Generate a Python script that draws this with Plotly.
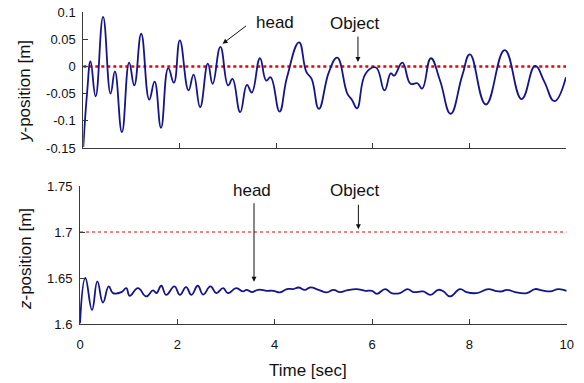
import plotly.graph_objects as go

# ---- data ----
t_y = [0.0, 0.08, 0.15, 0.255, 0.41, 0.565, 0.655, 0.80, 0.95, 1.056,
       1.20, 1.366, 1.477, 1.61, 1.76, 1.877, 2.0, 2.18, 2.285, 2.42,
       2.58, 2.68, 2.84, 3.0, 3.09, 3.25, 3.39, 3.49, 3.66, 3.79,
       3.88, 4.065, 4.22, 4.47, 4.62, 4.73, 4.88, 5.09, 5.26, 5.47,
       5.57, 5.67, 5.85, 6.06, 6.24, 6.37, 6.44, 6.61, 6.78, 6.92,
       7.02, 7.20, 7.39, 7.61, 7.85, 8.01, 8.34, 8.73, 9.08, 9.36,
       9.55, 9.76, 10.0]
y_head = [-0.148, -0.047, 0.009, -0.055, 0.091, -0.050, -0.009, -0.121, 0.007, -0.035,
          0.060, -0.061, -0.028, -0.113, -0.003, -0.030, 0.048, -0.044, -0.015, -0.075,
          0.005, -0.032, 0.036, -0.035, -0.023, -0.084, -0.034, -0.048, 0.015, -0.026,
          -0.020, -0.083, -0.020, 0.044, -0.010, -0.023, -0.078, -0.010, 0.016, -0.050,
          -0.062, -0.077, -0.013, -0.002, -0.044, -0.013, -0.017, 0.007, -0.032, -0.031,
          -0.041, 0.015, -0.026, -0.087, -0.017, 0.022, -0.070, 0.030, -0.060, 0.001,
          -0.028, -0.064, -0.020]

t_z = [0.0, 0.11, 0.247, 0.356, 0.472, 0.59, 0.678, 0.85, 0.952, 1.02,
       1.19, 1.36, 1.50, 1.57, 1.67, 1.77, 1.94, 2.05, 2.18, 2.29,
       2.42, 2.53, 2.68, 2.80, 2.94, 3.04, 3.21, 3.35, 3.42, 3.53,
       3.66, 3.84, 3.97, 4.11, 4.25, 4.38, 4.49, 4.62, 4.73, 4.90,
       5.07, 5.21, 5.34, 5.48, 5.68, 5.86, 6.0, 6.10, 6.27, 6.40,
       6.575, 6.73, 6.85, 7.05, 7.20, 7.36, 7.47, 7.60, 7.81, 7.94,
       8.15, 8.39, 8.53, 8.66, 8.77, 8.94, 9.18, 9.35, 9.49, 9.66,
       9.83, 10.0]
z_head = [1.6008, 1.650, 1.6153, 1.6463, 1.6233, 1.6408, 1.6336, 1.6347, 1.6389, 1.6306,
          1.6389, 1.6300, 1.6365, 1.6336, 1.6416, 1.6317, 1.6408, 1.6317, 1.6400, 1.6317,
          1.6416, 1.6320, 1.6408, 1.6336, 1.6389, 1.6336, 1.6389, 1.6354, 1.6372, 1.6347,
          1.6372, 1.6361, 1.6361, 1.6343, 1.6380, 1.6380, 1.6397, 1.6372, 1.6397, 1.6372,
          1.6343, 1.6372, 1.6347, 1.6365, 1.6380, 1.6361, 1.6361, 1.6328, 1.6380, 1.6336,
          1.6336, 1.6380, 1.6347, 1.6354, 1.6317, 1.6372, 1.6354, 1.6300, 1.6380, 1.6347,
          1.6336, 1.6380, 1.6361, 1.6354, 1.6372, 1.6347, 1.6336, 1.6380, 1.6365, 1.6354,
          1.6380, 1.6361]

object_t = [0, 10]
object_y = [0.0, 0.0]
object_z = [1.7, 1.7]

x_ticks = [0, 2, 4, 6, 8, 10]
x_tick_text = ["0", "2", "4", "6", "8", "10"]
y_ticks = [-0.15, -0.1, -0.05, 0, 0.05, 0.1]
y_tick_text = ["-0.15", "-0.1", "-0.05", "0", "0.05", "0.1"]
z_ticks = [1.6, 1.65, 1.7, 1.75]
z_tick_text = ["1.6", "1.65", "1.7", "1.75"]

W, H = 584, 383
FONT = "Liberation Sans, Arial, sans-serif"
NAVY = "#14148c"
AX = "#3a3a3a"

def px(x):
    return x / W

def py(y):
    return 1 - y / H

fig = go.Figure()
fig.add_trace(go.Scatter(x=object_t, y=object_y, mode="lines",
                         line=dict(color="#ee0000", width=2.5, dash="dot"),
                         xaxis="x", yaxis="y", hoverinfo="skip"))
fig.add_trace(go.Scatter(x=t_y, y=y_head, mode="lines",
                         line=dict(color=NAVY, width=1.8, shape="spline", smoothing=1.3),
                         xaxis="x", yaxis="y"))
fig.add_trace(go.Scatter(x=object_t, y=object_z, mode="lines",
                         line=dict(color="#ee0000", width=1, dash="3px,3px"),
                         xaxis="x2", yaxis="y2", hoverinfo="skip"))
fig.add_trace(go.Scatter(x=t_z, y=z_head, mode="lines",
                         line=dict(color=NAVY, width=1.8, shape="spline", smoothing=1.3),
                         xaxis="x2", yaxis="y2"))

axis_common = dict(showgrid=False, zeroline=False, showline=True, linecolor=AX,
                   linewidth=1, ticks="inside", ticklen=5, tickcolor=AX,
                   automargin=False,
                   tickfont=dict(family=FONT, size=13, color="#111"))

fig.update_layout(
    template="none",
    width=W, height=H, margin=dict(l=0, r=0, t=0, b=0, pad=0),
    paper_bgcolor="white", plot_bgcolor="white", showlegend=False,
    font=dict(family=FONT, color="#111"),
    xaxis=dict(domain=[px(83.3), px(566)], range=[0, 10], anchor="y",
               tickvals=x_ticks, showticklabels=False, **axis_common),
    yaxis=dict(domain=[py(148), py(12)], range=[-0.15, 0.1], anchor="x",
               tickvals=y_ticks, ticktext=y_tick_text, ticklabelstandoff=4,
               **axis_common),
    xaxis2=dict(domain=[px(80), px(566.7)], range=[0, 10], anchor="y2",
                tickvals=x_ticks, ticktext=x_tick_text, ticklabelstandoff=8,
                **axis_common),
    yaxis2=dict(domain=[py(324), py(186)], range=[1.6, 1.75], anchor="x2",
                tickvals=z_ticks, ticktext=z_tick_text, ticklabelstandoff=4,
                **axis_common),
)

ann_font = dict(family=FONT, size=17, color="#111")
C = dict(xanchor="center", yanchor="middle", showarrow=False, font=ann_font)
annotations = [
    # axis titles
    dict(text="<i>y</i>-position [m]", x=px(25), y=py(91), xref="paper", yref="paper",
         textangle=-90, **C),
    dict(text="<i>z</i>-position [m]", x=px(25), y=py(259), xref="paper", yref="paper",
         textangle=-90, **C),
    dict(text="Time [sec]", x=px(308), y=py(370), xref="paper", yref="paper", **C),
    # top labels
    dict(text="head", x=3.97, y=0.081, xref="x", yref="y", **C),
    dict(text="Object", x=5.61, y=0.0796, xref="x", yref="y", **C),
    dict(text="", x=2.886, y=0.0417, xref="x", yref="y", ax=25, ay=-19,
         showarrow=True, arrowhead=2, arrowsize=1, arrowwidth=1, arrowcolor="#111"),
    dict(text="", x=5.69, y=0.008, xref="x", yref="y", ax=0, ay=-27,
         showarrow=True, arrowhead=2, arrowsize=1, arrowwidth=1, arrowcolor="#111"),
    # bottom labels
    dict(text="head", x=3.53, y=1.7453, xref="x2", yref="y2", **C),
    dict(text="Object", x=5.63, y=1.7453, xref="x2", yref="y2", **C),
    dict(text="", x=3.575, y=1.646, xref="x2", yref="y2", ax=0, ay=-80,
         showarrow=True, arrowhead=2, arrowsize=1, arrowwidth=1, arrowcolor="#111"),
    dict(text="", x=5.72, y=1.7029, xref="x2", yref="y2", ax=0, ay=-26,
         showarrow=True, arrowhead=2, arrowsize=1, arrowwidth=1, arrowcolor="#111"),
]
fig.update_layout(annotations=annotations)

fig.write_html("out.html", include_plotlyjs=True, config={"displayModeBar": False},
               post_script="document.body.style.margin='0';document.body.style.overflow='hidden';")
